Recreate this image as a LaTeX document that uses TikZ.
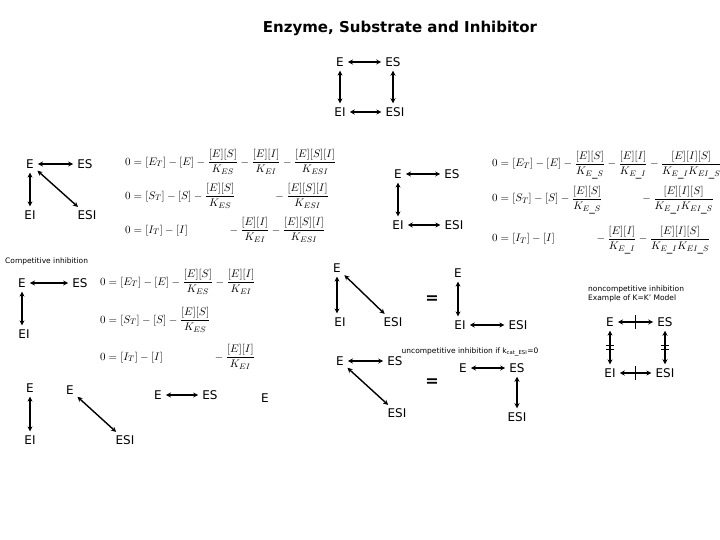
\documentclass[tikz,border=0pt]{standalone}
\usepackage{fontspec}
\setmainfont{DejaVu Sans}
\usetikzlibrary{arrows.meta}
\begin{document}
\begin{tikzpicture}[x=1pt,y=-1pt,
  lab/.style={font=\fontsize{12}{13}\selectfont,inner sep=2pt},
  arr/.style={{Stealth[length=5pt,width=5pt]}-{Stealth[length=5pt,width=5pt]},line width=1.4pt,shorten <=2pt,shorten >=2pt},
  eq/.style={anchor=west,inner sep=0pt,font=\fontsize{11}{12}\selectfont},
  small/.style={font=\fontsize{7.5}{9}\selectfont,inner sep=0pt},
  eqsign/.style={font=\fontsize{16}{16}\selectfont\bfseries}]
\useasboundingbox (0,0) rectangle (720,540);
\node[font=\fontsize{15}{17}\selectfont\bfseries] (title) at (400,28) {Enzyme, Substrate and Inhibitor};
% top square
\node[lab] (t1) at (340,62) {E}; \node[lab] (t2) at (393,62) {ES};
\node[lab] (t3) at (340,112) {EI}; \node[lab] (t4) at (395,112) {ESI};
\draw[arr] (t1)--(t2); \draw[arr] (t3)--(t4); \draw[arr] (t1.south)--(t1.south|-t3.north); \draw[arr] (t2.south)--(t2.south|-t4.north);
% block A
\node[lab] (a1) at (30,164) {E}; \node[lab] (a2) at (85,164) {ES};
\node[lab] (a3) at (30,215) {EI}; \node[lab] (a4) at (87,215) {ESI};
\draw[arr] (a1)--(a2); \draw[arr] (a1.south)--(a1.south|-a3.north); \draw[arr] (a1)--(a4);
\node[eq] (ea1) at (125,162) {$\displaystyle 0=[E_T]-[E]-\frac{[E][S]}{K_{ES}}-\frac{[E][I]}{K_{EI}}-\frac{[E][S][I]}{K_{ESI}}$};
\node[eq] (ea2) at (125,196) {$\displaystyle 0=[S_T]-[S]-\frac{[E][S]}{K_{ES}}\phantom{-\frac{[E][I]}{K_{EI}}}-\frac{[E][S][I]}{K_{ESI}}$};
\node[eq] (ea3) at (125,230) {$\displaystyle 0=[I_T]-[I]\phantom{-\frac{[E][S]}{K_{ES}}}-\frac{[E][I]}{K_{EI}}-\frac{[E][S][I]}{K_{ESI}}$};
% block B
\node[lab] (b1) at (398,174) {E}; \node[lab] (b2) at (452,174) {ES};
\node[lab] (b3) at (398,225) {EI}; \node[lab] (b4) at (454,225) {ESI};
\draw[arr] (b1)--(b2); \draw[arr] (b1.south)--(b1.south|-b3.north); \draw[arr] (b3)--(b4);
\node[eq] (eb1) at (492,165) {$\displaystyle 0=[E_T]-[E]-\frac{[E][S]}{K_{E\_S}}-\frac{[E][I]}{K_{E\_I}}-\frac{[E][I][S]}{K_{E\_I}K_{EI\_S}}$};
\node[eq] (eb2) at (492,200) {$\displaystyle 0=[S_T]-[S]-\frac{[E][S]}{K_{E\_S}}\phantom{-\frac{[E][I]}{K_{E\_I}}}-\frac{[E][I][S]}{K_{E\_I}K_{EI\_S}}$};
\node[eq] (eb3) at (492,240) {$\displaystyle 0=[I_T]-[I]\phantom{-\frac{[E][S]}{K_{E\_S}}}-\frac{[E][I]}{K_{E\_I}}-\frac{[E][I][S]}{K_{E\_I}K_{EI\_S}}$};
% competitive
\node[small,anchor=west] (clab) at (5,261) {Competitive inhibition};
\node[lab] (c1) at (22,283) {E}; \node[lab] (c2) at (80,283) {ES};
\node[lab] (c3) at (24,334) {EI};
\draw[arr] (c1)--(c2); \draw[arr] (c1.south)--(c1.south|-c3.north);
\node[eq] (ec1) at (100,282) {$\displaystyle 0=[E_T]-[E]-\frac{[E][S]}{K_{ES}}-\frac{[E][I]}{K_{EI}}$};
\node[eq] (ec2) at (100,320) {$\displaystyle 0=[S_T]-[S]-\frac{[E][S]}{K_{ES}}$};
\node[eq] (ec3) at (100,357) {$\displaystyle 0=[I_T]-[I]\phantom{-\frac{[E][S]}{K_{ES}}-\,}-\frac{[E][I]}{K_{EI}}$};
% middle
\node[lab] (m1) at (337,268) {E}; \node[lab] (m2) at (340,322) {EI}; \node[lab] (m3) at (393,322) {ESI};
\draw[arr] (m1.south)--(m1.south|-m2.north); \draw[arr] (m1)--(m3);
\node[eqsign] (meq) at (432,300) {=};
\node[lab] (n1) at (458,273) {E}; \node[lab] (n2) at (460,325) {EI}; \node[lab] (n3) at (518,325) {ESI};
\draw[arr] (n1.south)--(n1.south|-n2.north); \draw[arr] (n2)--(n3);
% noncompetitive
\node[small,align=left,anchor=west] (nlab) at (588,294) {noncompetitive inhibition\\Example of K=K' Model};
\node[lab] (p1) at (610,322) {E}; \node[lab] (p2) at (665,322) {ES};
\node[lab] (p3) at (610,373) {EI}; \node[lab] (p4) at (665,373) {ESI};
\draw[arr] (p1)--(p2) coordinate[midway] (q1); \draw[arr] (p3)--(p4) coordinate[midway] (q2);
\draw[arr] (p1.south)--(p1.south|-p3.north) coordinate[midway] (q3); \draw[arr] (p2.south)--(p2.south|-p4.north) coordinate[midway] (q4);
\draw[line width=0.8pt] (q1)+(0,-7)--+(0,7); \draw[line width=0.8pt] (q2)+(0,-7)--+(0,7);
\draw[line width=0.8pt] (q3)+(-4,-2)--+(4,-2) (q3)+(-4,2)--+(4,2);
\draw[line width=0.8pt] (q4)+(-4,-2)--+(4,-2) (q4)+(-4,2)--+(4,2);
% uncompetitive
\node[small] (ulab) at (470,352) {uncompetitive inhibition if k$_{\mathrm{cat\_ESI}}$=0};
\node[lab] (u1) at (340,361) {E}; \node[lab] (u2) at (395,361) {ES}; \node[lab] (u3) at (397,413) {ESI};
\draw[arr] (u1)--(u2); \draw[arr] (u1)--(u3);
\node[eqsign] (ueq) at (432,383) {=};
\node[lab] (v1) at (463,368) {E}; \node[lab] (v2) at (517,368) {ES}; \node[lab] (v3) at (517,417) {ESI};
\draw[arr] (v1)--(v2); \draw[arr] (v2.south)--(v2.south|-v3.north);
% bottom
\node[lab] (w1) at (30,388) {E}; \node[lab] (w2) at (30,440) {EI};
\draw[arr] (w1.south)--(w1.south|-w2.north);
\node[lab] (x1) at (70,390) {E}; \node[lab] (x2) at (125,440) {ESI};
\draw[arr] (x1)--(x2);
\node[lab] (y1) at (158,395) {E}; \node[lab] (y2) at (210,395) {ES};
\draw[arr] (y1)--(y2);
\node[lab] (z1) at (265,398) {E};
\end{tikzpicture}
\end{document}
